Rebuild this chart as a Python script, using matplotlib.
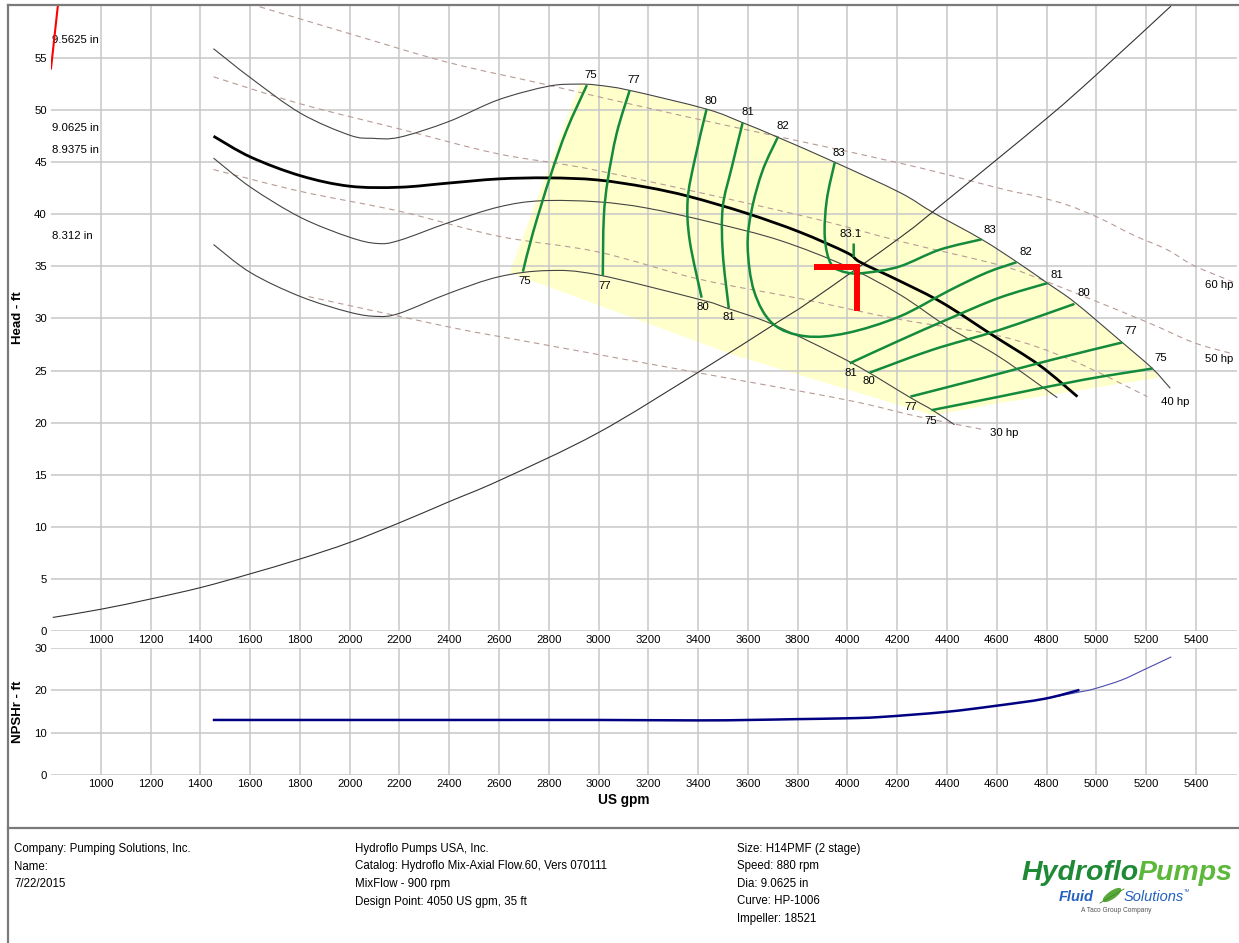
import numpy as np
import matplotlib
matplotlib.use('Agg')
import matplotlib.pyplot as plt
from matplotlib.patches import Ellipse, PathPatch
from matplotlib.path import Path

plt.rcParams['font.family'] = ['Liberation Sans', 'DejaVu Sans']

# impeller curves (US gpm, ft)
d95_q = np.array([1453, 1602, 1803, 2000, 2092, 2200, 2397, 2598, 2799, 2916, 2996, 3125, 3434, 3579,
                  3720, 3949, 4210, 4342, 4539, 4682, 4803, 4916, 5104, 5225, 5297])
d95_h = np.array([55.9, 53.1, 49.7, 47.6, 47.3, 47.4, 48.9, 51.0, 52.3, 52.5, 52.4, 51.9, 50.1, 48.8,
                  47.4, 45.0, 42.1, 40.2, 37.6, 35.4, 33.4, 31.5, 27.7, 25.2, 23.3])
d90_q = [1453, 1602, 1803, 2000, 2200, 2397, 2598, 2799, 2996, 3194, 3366, 3595, 3808, 3999, 4052,
         4210, 4382, 4583, 4772, 4924]
d90_h = [47.5, 45.5, 43.7, 42.7, 42.6, 43.0, 43.4, 43.5, 43.3, 42.6, 41.7, 40.1, 38.3, 36.3, 35.4,
         33.6, 31.5, 28.4, 25.5, 22.5]
d89_q = [1453, 1602, 1803, 2000, 2112, 2200, 2397, 2598, 2767, 2996, 3194, 3459, 3728, 3997, 4210,
         4402, 4611, 4843]
d89_h = [45.4, 42.6, 39.7, 37.8, 37.2, 37.5, 39.2, 40.7, 41.3, 41.2, 40.6, 39.2, 37.5, 35.0, 32.3,
         29.2, 26.3, 22.4]
d83_q = [1453, 1602, 1803, 2000, 2112, 2200, 2397, 2598, 2795, 2996, 3410, 3515, 3703, 4012, 4253,
         4342, 4430]
d83_h = [37.1, 34.4, 32.1, 30.6, 30.2, 30.5, 32.4, 34.0, 34.6, 34.2, 31.8, 31.0, 29.4, 25.8, 22.4,
         21.2, 19.8]
dia_labels = [('9.5625 in', 56.7), ('9.0625 in', 48.3), ('8.9375 in', 46.2), ('8.312 in', 37.9)]

# efficiency contours
eff_lines = [
    ([2953, 2872, 2804, 2736, 2696], [52.4, 48.1, 43.5, 38.2, 34.5]),
    ([3125, 3073, 3037, 3021, 3017], [51.9, 47.8, 43.3, 39.7, 34.1]),
    ([3434, 3386, 3358, 3366, 3414], [50.1, 45.2, 41.4, 37.5, 32.0]),
    ([3579, 3535, 3499, 3499, 3523], [48.8, 44.5, 40.7, 36.3, 31.0]),
    ([3720, 3659, 3615, 3599, 3625, 3700, 3830, 3997, 4210, 4410, 4559, 4679],
     [47.4, 44.2, 40.4, 36.9, 32.6, 29.5, 28.3, 28.6, 30.2, 32.7, 34.4, 35.4]),
    ([3949, 3917, 3909, 3935, 4000, 4077, 4210, 4370, 4539],
     [45.0, 41.4, 37.8, 35.2, 34.4, 34.4, 35.0, 36.6, 37.6]),
    ([4025, 4025], [37.2, 35.9]),
    ([4009, 4210, 4410, 4611, 4804], [25.7, 27.9, 30.0, 32.0, 33.4]),
    ([4089, 4342, 4611, 4912], [24.8, 27.0, 28.9, 31.4]),
    ([4253, 4546, 4815, 5104], [22.5, 24.3, 26.0, 27.7]),
    ([4338, 4611, 4944, 5226], [21.2, 22.5, 24.1, 25.2]),
]
eff_labels = [('75', 2968, 53.4), ('77', 3141, 52.9), ('80', 3450, 50.9), ('81', 3598, 49.8),
              ('82', 3739, 48.5), ('83', 3964, 45.9),
              ('75', 2703, 33.6), ('77', 3024, 33.1), ('80', 3418, 31.1), ('81', 3522, 30.1),
              ('81', 4012, 24.8), ('80', 4085, 24.0), ('77', 4253, 21.5), ('75', 4333, 20.2),
              ('83', 4574, 38.5), ('82', 4715, 36.4), ('81', 4843, 34.2), ('80', 4948, 32.4),
              ('77', 5137, 28.8), ('75', 5257, 26.2), ('83.1', 4012, 38.1)]

# lower edge of the shaded operating region
zone_q = [5245, 4614, 4345, 3542, 2940, 2643]
zone_h = [24.3, 21.9, 20.7, 26.5, 31.8, 34.4]

# power lines
hp_lines = [
    ([1600, 1992, 2393, 2799, 3329, 4213, 4627, 4747, 4883, 5016, 5149, 5285, 5390, 5550],
     [60.2, 57.4, 54.6, 52.4, 49.5, 44.9, 42.4, 41.8, 40.9, 39.6, 38.0, 36.6, 35.1, 33.5]),
    ([1453, 1803, 2200, 2598, 2996, 3811, 4213, 4614, 4815, 5189, 5390, 5550],
     [53.2, 50.6, 48.2, 45.8, 44.2, 39.9, 37.4, 35.1, 33.4, 29.8, 27.7, 26.6]),
    ([1453, 1803, 2200, 2598, 2996, 3400, 3811, 4213, 4614, 4900, 5205],
     [44.3, 42.2, 40.3, 37.9, 36.4, 33.8, 31.9, 29.9, 28.3, 26.0, 22.5]),
    ([1835, 2200, 2458, 2618, 3398, 3992, 4281, 4554],
     [32.1, 30.2, 28.9, 28.2, 24.8, 22.2, 20.6, 19.3]),
]
hp_labels = [('60 hp', 5438, 33.2), ('50 hp', 5438, 26.1), ('40 hp', 5261, 22.0), ('30 hp', 4574, 19.0)]

# system curve
sys_q = [807, 1003, 1205, 1406, 1602, 1799, 2000, 2201, 2398, 2606, 2996, 3398, 3703, 3859, 4213,
         4402, 4800, 5000, 5300]
sys_h = [1.3, 2.1, 3.1, 4.2, 5.5, 6.9, 8.5, 10.4, 12.4, 14.5, 19.0, 24.8, 29.4, 31.8, 37.8,
         41.4, 49.2, 53.4, 60.0]

design_q, design_h = 4040, 34.9

# NPSHr
npsh_q = [1450, 2000, 2500, 3000, 3400, 3600, 3800, 4000, 4133, 4394, 4590, 4791, 4932]
npsh_h = [13.0, 13.0, 13.0, 13.0, 12.9, 13.0, 13.2, 13.4, 13.7, 14.9, 16.3, 18.0, 20.1]
npsh_ext_q = [4791, 4932, 4988, 5100, 5189, 5301]
npsh_ext_h = [18.0, 19.6, 20.3, 22.4, 24.8, 27.9]

footer = [
    (14, ['Company: Pumping Solutions, Inc.', 'Name:', '7/22/2015']),
    (355, ['Hydroflo Pumps USA, Inc.', 'Catalog: Hydroflo Mix-Axial Flow.60, Vers 070111',
           'MixFlow - 900 rpm', 'Design Point: 4050 US gpm, 35 ft']),
    (737, ['Size: H14PMF (2 stage)', 'Speed: 880 rpm', 'Dia: 9.0625 in', 'Curve: HP-1006',
           'Impeller: 18521']),
]

green = '#138a3c'
hpcol = '#b89b95'


def curve(a, q, h, **kw):
    # smooth line through the read points (Bezier segments)
    P = np.column_stack([q, h]).astype(float)
    E = np.vstack([P[0], P, P[-1]])
    verts = [P[0]]
    codes = [Path.MOVETO]
    for i in range(len(P) - 1):
        p0, p1, p2, p3 = E[i], E[i + 1], E[i + 2], E[i + 3]
        verts += [p1 + (p2 - p0) / 6, p2 - (p3 - p1) / 6, p2]
        codes += [Path.CURVE4] * 3
    a.add_patch(PathPatch(Path(verts, codes), fill=False, **kw))


fig = plt.figure(figsize=(12.39, 9.43), dpi=100, facecolor='white')
ax = fig.add_axes([0.04116, 0.33086, 0.95722, 0.66278])
ax2 = fig.add_axes([0.04116, 0.17815, 0.95722, 0.13468])

for a in (ax, ax2):
    a.set_xlim(800, 5565)
    a.set_xticks(np.arange(1000, 5401, 200))
    a.grid(True, color='#c8c8c8', lw=1.1)
    a.set_axisbelow(True)
    a.tick_params(length=0, labelsize=8.2, pad=3)
    for s in a.spines.values():
        s.set_visible(False)
ax.set_ylim(0, 60)
ax.set_yticks(range(0, 56, 5))
ax2.set_ylim(0, 30)
ax2.set_yticks([0, 10, 20, 30])

# shaded region
m = (d95_q > 2924) & (d95_q < 5245)
poly_q = [2924] + list(d95_q[m]) + [5245] + zone_q
poly_h = [np.interp(2924, d95_q, d95_h)] + list(d95_h[m]) + [np.interp(5245, d95_q, d95_h)] + zone_h
ax.fill(poly_q, poly_h, color='#ffffcc', lw=0, zorder=0.2)

for q, h in hp_lines:
    curve(ax, q, h, edgecolor=hpcol, lw=0.8, linestyle=(0, (5, 4)), zorder=1.5)
for t, q, h in hp_labels:
    ax.text(q, h, t, fontsize=8.2, ha='left', va='center')

curve(ax, d95_q, d95_h, edgecolor='#444444', lw=0.8, zorder=2)
curve(ax, d89_q, d89_h, edgecolor='#444444', lw=0.8, zorder=2)
curve(ax, d83_q, d83_h, edgecolor='#444444', lw=0.8, zorder=2)
curve(ax, d90_q, d90_h, edgecolor='black', lw=2.0, zorder=2.2)
for t, h in dia_labels:
    ax.text(803, h, t, fontsize=8.2, ha='left', va='center')

for q, h in eff_lines:
    curve(ax, q, h, edgecolor=green, lw=1.8, zorder=2.5)
for t, q, h in eff_labels:
    ax.text(q, h, t, fontsize=8.2, ha='center', va='center', zorder=3)

curve(ax, sys_q, sys_h, edgecolor='#333333', lw=0.8, zorder=2)
ax.plot([800, 832], [54.0, 61.0], color='red', lw=1.5, zorder=3)
ax.plot([design_q - 175, design_q, design_q], [design_h, design_h, design_h - 4.2],
        color='red', lw=4.3, solid_joinstyle='miter', solid_capstyle='butt', zorder=4)

curve(ax2, npsh_ext_q, npsh_ext_h, edgecolor='#4b4bb0', lw=0.8, zorder=2)
curve(ax2, npsh_q, npsh_h, edgecolor='#000080', lw=1.8, zorder=2.2)

# overlay in pixel units
ov = fig.add_axes([0, 0, 1, 1], zorder=5)
ov.set_xlim(0, 1239)
ov.set_ylim(943, 0)
ov.axis('off')
ov.plot([8, 8], [5, 943], color='#7a7a7a', lw=1.6)
ov.plot([8, 1239], [5, 5], color='#7a7a7a', lw=1.6)
ov.plot([8, 1239], [828, 828], color='#7a7a7a', lw=1.6)

ov.text(18, 318, 'Head - ft', rotation=90, fontsize=9.5, fontweight='bold', ha='center', va='center')
ov.text(18, 712, 'NPSHr - ft', rotation=90, fontsize=9.5, fontweight='bold', ha='center', va='center')
ov.text(624, 800, 'US gpm', fontsize=9.8, fontweight='bold', ha='center', va='center')

for x, lines in footer:
    for i, s in enumerate(lines):
        ov.text(x, 849 + i * 17.5, s, fontsize=8.3, ha='left', va='center')

# logo
t1 = ov.text(1021, 873, 'Hydroflo', fontsize=20.5, fontweight='bold', style='italic',
             color='#1f8a36', ha='left', va='center')
fig.canvas.draw()
bb = t1.get_window_extent(fig.canvas.get_renderer())
xr = ov.transData.inverted().transform((bb.x1, bb.y0))[0]
ov.text(xr - 1, 873, 'Pumps', fontsize=20.5, fontweight='bold', style='italic',
        color='#5cb83a', ha='left', va='center')
ov.text(1059, 897, 'Fluid', fontsize=10.5, fontweight='bold', style='italic', color='#2360c0',
        ha='left', va='center')
ov.add_patch(Ellipse((1112, 895), 22, 8, angle=-35, color='#5aa83a', lw=0))
ov.plot([1100, 1124], [903, 889], color='#3d8a2a', lw=0.6)
ov.text(1124, 897, 'Solutions', fontsize=10.5, style='italic', color='#2360c0',
        ha='left', va='center')
ov.text(1184, 891, 'TM', fontsize=3, color='#2360c0', ha='left', va='center')
ov.text(1116, 911, 'A Taco Group Company', fontsize=4.8, color='#555555', ha='center', va='center')

fig.savefig('out.png', dpi=100, facecolor='white')
